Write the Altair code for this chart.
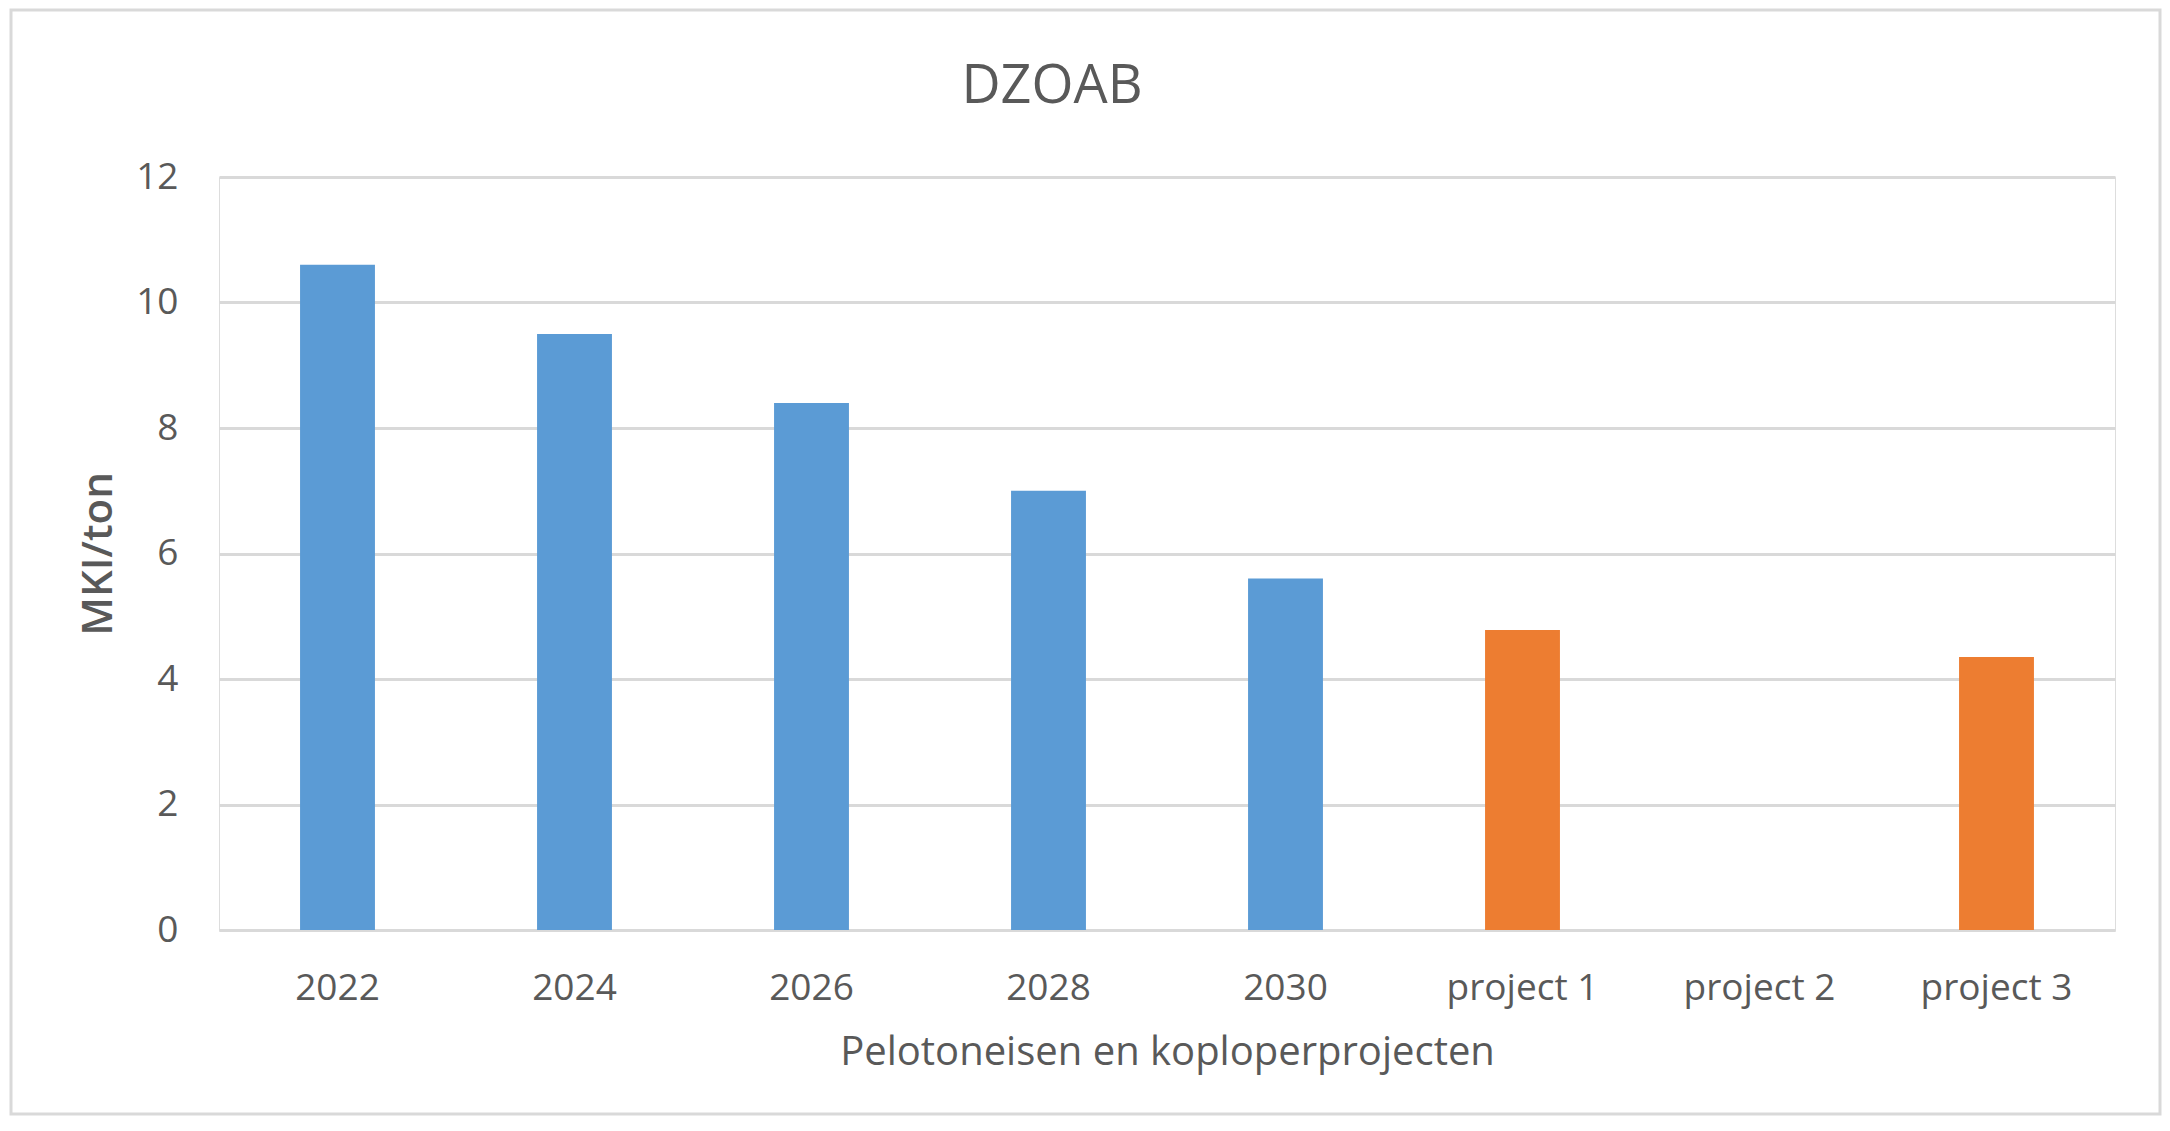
import altair as alt
import pandas as pd

categories = ["2022", "2024", "2026", "2028", "2030", "project 1", "project 2", "project 3"]
values = [10.6, 9.5, 8.4, 7.0, 5.6, 4.78, None, 4.35]
groups = ["Pelotoneis"] * 5 + ["Koploperproject"] * 3
group_names = ["Pelotoneis", "Koploperproject"]
group_colors = ["#5B9BD5", "#ED7D31"]
y_ticks = [0, 2, 4, 6, 8, 10, 12]

df = pd.DataFrame({"categorie": categories, "MKI": values, "groep": groups})

FONT = "Open Sans"
TEXT = "#595959"
GRID = "#d9d9d9"

W, H = 1896, 753

bars = alt.Chart(df).mark_bar().encode(
    x=alt.X(
        "categorie:N",
        sort=categories,
        scale=alt.Scale(domain=categories, paddingInner=0.684, paddingOuter=0.342),
        axis=alt.Axis(
            title="Pelotoneisen en koploperprojecten",
            labelAngle=0,
            labelFontSize=37,
            labelPadding=40,
            labelColor=TEXT,
            labelFont=FONT,
            ticks=False,
            grid=False,
            domain=True,
            domainColor=GRID,
            domainWidth=3,
            titleFontSize=40,
            titleFont=FONT,
            titleColor=TEXT,
            titleFontWeight="normal",
            titleX=W / 2,
            titleY=122,
            titleBaseline="middle",
            titleAlign="center",
        ),
    ),
    y=alt.Y(
        "MKI:Q",
        scale=alt.Scale(domain=[0, 12]),
        axis=alt.Axis(
            values=y_ticks,
            title="MKI/ton",
            labelFontSize=37,
            labelPadding=41,
            labelColor=TEXT,
            labelFont=FONT,
            ticks=False,
            domain=False,
            grid=True,
            gridColor=GRID,
            gridWidth=3,
            titleFontSize=42,
            titleFont=FONT,
            titleColor=TEXT,
            titleFontWeight=600,
            titleX=-121,
            titleY=H / 2,
            titleBaseline="middle",
            titleAlign="center",
            titleAngle=270,
        ),
    ),
    color=alt.Color(
        "groep:N",
        scale=alt.Scale(domain=group_names, range=group_colors),
        legend=None,
    ),
)

frame = alt.Chart(pd.DataFrame({"k": [0]})).mark_rect(
    fill="transparent", stroke=GRID, strokeWidth=3
).encode(
    x=alt.value(-208), x2=alt.value(1941), y=alt.value(-167), y2=alt.value(937)
)

chart = (
    alt.layer(frame, bars)
    .properties(
        width=W,
        height=H,
        title=alt.TitleParams(
            "DZOAB",
            fontSize=54,
            font=FONT,
            color=TEXT,
            fontWeight="normal",
            anchor="middle",
            dx=-115,
            offset=-105,
        ),
        autosize=alt.AutoSizeParams(type="none"),
        padding={"left": 211, "top": 169, "right": 47, "bottom": 186},
    )
    .configure_view(stroke="transparent", strokeWidth=0)
    .configure(background="white")
)

chart.save("out.html", embed_options={"renderer": "svg", "actions": False})
